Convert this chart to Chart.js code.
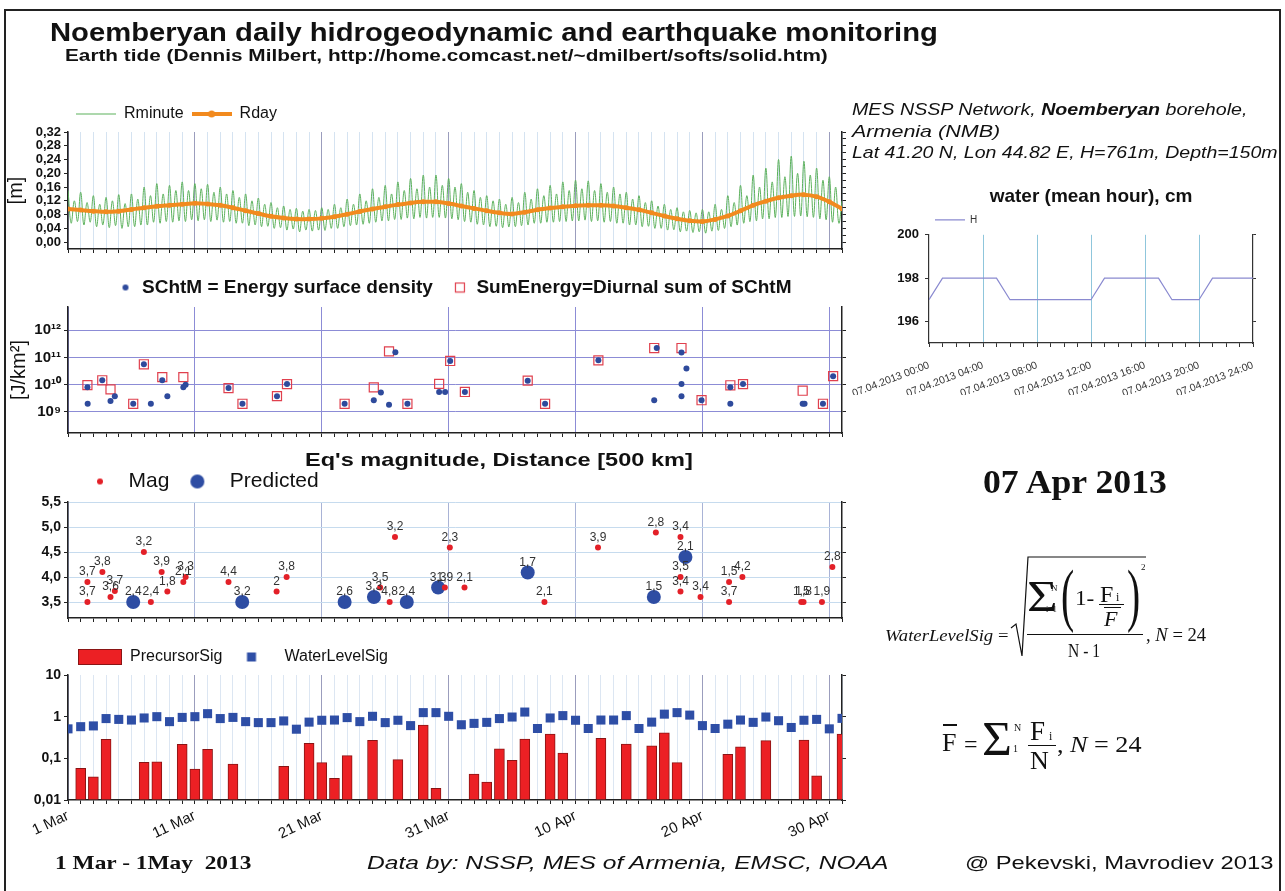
<!DOCTYPE html>
<html>
<head>
<meta charset="utf-8">
<script src="https://cdn.jsdelivr.net/npm/chart.js@4.4.1/dist/chart.umd.min.js"></script>
<style>
body{margin:0;width:1285px;height:891px;background:#fff;position:relative;overflow:hidden;font-family:"Liberation Sans",Arial,sans-serif;color:#111}
.box{position:absolute}
.txt{position:absolute;white-space:nowrap;line-height:1;transform-origin:0 0}
.serif{font-family:"Liberation Serif","Times New Roman",serif}
.frame{position:absolute;left:4px;top:9px;width:1273px;height:900px;border:2px solid #222;border-bottom:none}
.hl{position:absolute;background:#111}
</style>
</head>
<body>
<div class="frame"></div>
<div class="box" style="left:0;top:98px;width:860px;height:167px"><canvas id="tide"></canvas></div>
<div class="box" style="left:0;top:258px;width:860px;height:191px"><canvas id="energy"></canvas></div>
<div class="box" style="left:0;top:463px;width:860px;height:171px"><canvas id="mag"></canvas></div>
<div class="box" style="left:0;top:639px;width:860px;height:211px"><canvas id="sig"></canvas></div>
<div class="box" style="left:830px;top:185px;width:450px;height:210px"><canvas id="water"></canvas></div>
<svg class="box" style="left:0;top:0" width="1285" height="891">
  <path d="M1011,628 L1016,624 L1022,656 L1028,557 L1146,557" fill="none" stroke="#111" stroke-width="1.2"/>
</svg>
<script>
// days counted from 1 Mar 2013 00:00
var dayLabels = ["1 Mar", "11 Mar", "21 Mar", "31 Mar", "10 Apr", "20 Apr", "30 Apr"];
var tideTicks = [0, 0.04, 0.08, 0.12, 0.16, 0.20, 0.24, 0.28, 0.32];

// Rday, one value a day
var rDay = [0.096, 0.093, 0.090, 0.088, 0.090, 0.095, 0.100, 0.104, 0.107, 0.110,
  0.113, 0.111, 0.107, 0.100, 0.091, 0.083, 0.075, 0.070, 0.067, 0.067,
  0.069, 0.074, 0.081, 0.089, 0.096, 0.103, 0.109, 0.114, 0.117, 0.117,
  0.112, 0.105, 0.098, 0.091, 0.085, 0.082, 0.087, 0.094, 0.099, 0.103,
  0.106, 0.107, 0.107, 0.105, 0.100, 0.094, 0.085, 0.076, 0.068, 0.062,
  0.060, 0.066, 0.076, 0.091, 0.107, 0.119, 0.129, 0.135, 0.138, 0.132,
  0.117, 0.097];

// Rminute, turning points of the trace every 6 hours
var rMinute = [
  .150, .055, .120, .060, .145, .050, .115, .058, .135, .045, .110, .050,
  .130, .042, .120, .048, .138, .040, .112, .045, .140, .045, .125, .050,
  .160, .050, .135, .058, .170, .055, .140, .060, .165, .058, .150, .062,
  .175, .060, .150, .065, .170, .062, .155, .065, .168, .060, .145, .064,
  .160, .058, .140, .060, .150, .055, .130, .055, .140, .048, .120, .050,
  .128, .045, .110, .046, .115, .040, .100, .042, .105, .035, .095, .038,
  .098, .030, .090, .035, .095, .032, .092, .035, .100, .034, .095, .040,
  .110, .040, .100, .045, .125, .048, .110, .050, .140, .052, .120, .055,
  .155, .058, .130, .062, .165, .062, .140, .066, .175, .066, .150, .070,
  .185, .068, .155, .072, .195, .070, .160, .072, .195, .072, .165, .070,
  .185, .068, .160, .065, .170, .060, .145, .058, .150, .052, .130, .050,
  .135, .045, .120, .046, .125, .042, .110, .044, .130, .045, .115, .048,
  .145, .050, .125, .055, .155, .055, .135, .058, .165, .058, .140, .060,
  .175, .060, .150, .062, .180, .062, .155, .064, .178, .060, .150, .062,
  .170, .058, .145, .060, .160, .055, .140, .055, .145, .050, .125, .050,
  .135, .045, .115, .046, .120, .040, .105, .040, .110, .035, .095, .036,
  .100, .030, .088, .032, .092, .028, .085, .030, .095, .026, .088, .032,
  .110, .034, .095, .040, .135, .045, .115, .050, .165, .055, .135, .060,
  .195, .062, .160, .068, .215, .068, .175, .072, .240, .072, .190, .075,
  .250, .075, .200, .076, .235, .074, .195, .072, .215, .068, .180, .065,
  .190, .058, .160, .055, .120];

// SChtM and SumEnergy [J/km2]
var energyTicks = [1e9, 1e10, 1e11, 1e12];
var energyTickLabels = ["10⁹", "10¹⁰", "10¹¹", "10¹²"];
var schtmDay = [1.53, 1.55, 2.7, 3.35, 3.69, 5.14, 5.98, 6.53, 7.43, 7.83, 9.09, 9.27, 12.65, 13.75,
  16.47, 17.26, 21.8, 24.1, 24.66, 25.3, 25.8, 26.75, 29.25, 29.72, 30.12, 31.28, 36.23, 37.6,
  41.8, 46.2, 46.4, 48.35, 48.74, 48.35, 48.35, 49.93, 52.2, 52.2, 53.2, 57.9, 58.05, 59.5, 60.3];
var schtmVal = [8e9, 2e9, 1.45e10, 2.5e9, 3.8e9, 2e9, 5.6e10, 2e9, 1.45e10, 3.8e9, 8e9, 1e10, 7.5e9, 2e9,
  3.8e9, 1.05e10, 2e9, 2.7e9, 5.2e9, 1.85e9, 1.55e11, 2e9, 5.4e9, 5.4e9, 7.4e10, 5.4e9, 1.4e10, 2e9,
  7.8e10, 2.7e9, 2.2e11, 1.5e11, 3.9e10, 1.05e10, 3.8e9, 2.7e9, 8e9, 2e9, 1.05e10, 2e9, 2e9, 2e9, 2.05e10];
var sumDay = [1.53, 2.7, 3.35, 5.14, 5.98, 7.43, 9.09, 12.65, 13.75, 16.47, 17.26, 21.8, 24.1, 25.3,
  26.75, 29.25, 30.12, 31.28, 36.23, 37.6, 41.8, 46.2, 48.35, 49.93, 52.2, 53.2, 57.9, 59.5, 60.3];
var sumVal = [9.6e9, 1.45e10, 6.7e9, 2e9, 5.6e10, 1.9e10, 1.9e10, 7.5e9, 2e9, 3.8e9, 1.05e10, 2e9, 8e9, 1.65e11,
  2e9, 1.07e10, 7.4e10, 5.4e9, 1.4e10, 2e9, 7.8e10, 2.2e11, 2.2e11, 2.7e9, 9.5e9, 1.05e10, 6e9, 2e9, 2.05e10];

// earthquakes: magnitude, label = distance
var magTicks = [3.5, 4.0, 4.5, 5.0, 5.5];
var magDay = [1.53, 1.53, 2.71, 3.35, 3.69, 5.98, 6.53, 7.38, 7.83, 9.09, 9.27, 12.65, 16.44, 17.23,
  24.6, 25.35, 25.77, 29.7, 30.09, 31.25, 37.55, 41.77, 46.33, 48.27, 48.27, 48.27, 49.85, 52.1,
  53.15, 52.1, 57.79, 57.97, 59.42, 60.24];
var magVal = [3.9, 3.5, 4.1, 3.6, 3.72, 4.5, 3.5, 4.1, 3.71, 3.9, 4.0, 3.9, 3.71, 4.0,
  3.79, 3.5, 4.8, 3.79, 4.59, 3.79, 3.5, 4.59, 4.89, 4.8, 4.0, 3.71, 3.6, 3.9,
  4.0, 3.5, 3.5, 3.5, 3.5, 4.2];
var magDist = ["3,7", "3,7", "3,8", "3,6", "3,7", "3,2", "2,4", "3,9", "1,8", "2,1", "3,3", "4,4", "2", "3,8",
  "3,5", "4,8", "3,2", "1,9", "2,3", "2,1", "2,1", "3,9", "2,8", "3,4", "3,5", "3,4", "3,4", "1,5",
  "4,2", "3,7", "1,5", "1,8", "1,9", "2,8"];
var predDay = [5.14, 13.73, 21.8, 24.11, 26.7, 29.17, 36.23, 46.17, 48.66];
var predVal = [3.5, 3.5, 3.5, 3.6, 3.5, 3.79, 4.09, 3.6, 4.4];
var predDist = ["2,4", "3,2", "2,6", "3,3", "2,4", "3,3", "1,7", "1,5", "2,1"];

// daily signals
var sigTicks = [0.01, 0.1, 1, 10];
var sigTickLabels = ["0,01", "0,1", "1", "10"];
var precursorSig = [null, 0.0575, 0.036, 0.286, null, null, 0.08, 0.083, null, 0.217,
  0.055, 0.164, null, 0.073, null, null, null, 0.064, null, 0.23,
  0.079, 0.033, 0.116, null, 0.27, null, 0.093, null, 0.63, 0.019,
  null, null, 0.042, 0.027, 0.17, 0.09, 0.29, null, 0.38, 0.134,
  null, null, 0.30, null, 0.22, null, 0.2, 0.41, 0.079, null,
  null, null, 0.125, 0.19, null, 0.265, null, null, 0.275, 0.038,
  null, 0.38];
var waterLevelSig = [0.51, 0.575, 0.6, 0.9, 0.86, 0.83, 0.93, 1.0, 0.76, 0.96,
  1.0, 1.18, 0.9, 0.96, 0.76, 0.72, 0.72, 0.79, 0.5, 0.74,
  0.82, 0.83, 0.95, 0.76, 1.02, 0.72, 0.82, 0.61, 1.25, 1.25,
  1.02, 0.64, 0.69, 0.73, 0.9, 0.98, 1.29, 0.52, 0.93, 1.06,
  0.82, 0.52, 0.83, 0.83, 1.06, 0.52, 0.74, 1.15, 1.25, 1.09,
  0.61, 0.52, 0.66, 0.83, 0.73, 0.98, 0.8, 0.55, 0.82, 0.86,
  0.51, 0.91];

// water level, 07 Apr 2013, hourly
var waterH = [197, 198, 198, 198, 198, 198, 197, 197, 197, 197, 197, 197, 197,
  198, 198, 198, 198, 198, 197, 197, 197, 198, 198, 198, 198];
var waterTicks = [196, 198, 200];
var hourLabels = ["07.04.2013 00:00", "07.04.2013 04:00", "07.04.2013 08:00", "07.04.2013 12:00",
  "07.04.2013 16:00", "07.04.2013 20:00", "07.04.2013 24:00"];

Chart.defaults.font.family = '"Liberation Sans", Arial, sans-serif';
Chart.defaults.color = "#111";
Chart.defaults.animation = false;
Chart.defaults.plugins.tooltip.enabled = false;

var dayTicks = [];
for (var d = 0; d <= 61; d++) dayTicks.push(d);
var hourTicks = [];
for (var h = 0; h <= 24; h++) hourTicks.push(h);

function marker(w, h, draw) {
  var c = document.createElement("canvas");
  c.width = w; c.height = h;
  draw(c.getContext("2d"), w, h);
  return c;
}
function dot(ctx, x, y, r, col) {
  ctx.fillStyle = col; ctx.beginPath(); ctx.arc(x, y, r, 0, Math.PI * 2); ctx.fill();
}

function legendFor(markers, font, padding, align) {
  return {
    position: "top", align: align, fullSize: false,
    labels: {
      usePointStyle: true, pointStyleWidth: markers[0].width, padding: padding, color: "#111", font: font,
      generateLabels: function (chart) {
        return chart.data.datasets.map(function (ds, i) {
          return { text: ds.label, pointStyle: markers[i], datasetIndex: i, hidden: false,
            lineWidth: 0, fillStyle: "transparent", strokeStyle: "transparent", fontColor: "#111" };
        });
      }
    }
  };
}

function dayScale(height, showLabels, minor, major) {
  return {
    type: "linear", min: 0, max: 61, offset: false,
    afterBuildTicks: function (s) { s.ticks = dayTicks.map(function (v) { return { value: v }; }); },
    afterFit: function (s) { s.height = height; },
    ticks: {
      display: showLabels, autoSkip: false, maxRotation: 25, minRotation: 25, padding: 3,
      font: { size: 15 }, color: "#111",
      callback: function (v) { return v % 10 === 0 ? dayLabels[v / 10] : ""; }
    },
    grid: {
      offset: false, tickColor: "#222", tickLength: 4,
      color: function (c) { return c.tick && c.tick.value % 10 === 0 ? major : minor; }
    },
    border: { color: "#222", width: 1.5 }
  };
}

function valueScale(o) {
  return {
    type: o.type, min: o.min, max: o.max, position: "left",
    afterBuildTicks: function (s) { s.ticks = o.ticks.map(function (v) { return { value: v }; }); },
    afterFit: function (s) { s.width = 68; },
    ticks: { callback: o.fmt, autoSkip: false, font: { size: o.size || 14, weight: "bold" }, color: "#111", padding: 3 },
    grid: { color: o.grid, tickColor: "#222", tickLength: 4 },
    border: { color: "#222", width: 1.5 },
    title: o.title ? { display: true, text: o.title, font: { size: 20 }, padding: { top: o.titlePad, bottom: 0 }, color: "#111" } : { display: false }
  };
}

function mirrorScale(o, width) {
  return {
    type: o.type, min: o.min, max: o.max, position: "right",
    afterBuildTicks: function (s) { s.ticks = o.ticks.map(function (v) { return { value: v }; }); },
    afterFit: function (s) { s.width = width; },
    ticks: { autoSkip: false, callback: function () { return ""; } },
    grid: { drawOnChartArea: false, tickColor: "#222", tickLength: 4 },
    border: { color: "#222", width: 1.5 }
  };
}

function comma(digits) { return function (v) { return Number(v).toFixed(digits).replace(".", ","); }; }

var pointLabels = {
  id: "pointLabels",
  afterDatasetsDraw: function (chart) {
    var ctx = chart.ctx;
    chart.data.datasets.forEach(function (ds, i) {
      if (!ds.pointLabels) return;
      var meta = chart.getDatasetMeta(i);
      ctx.save();
      ctx.font = '12px "Liberation Sans", Arial, sans-serif';
      ctx.fillStyle = "#333";
      ctx.textAlign = "center";
      ctx.textBaseline = "middle";
      meta.data.forEach(function (pt, j) { ctx.fillText(ds.pointLabels[j], pt.x, pt.y - 10); });
      ctx.restore();
    });
  }
};

// ---- Earth tide ----
var tideMarkers = [
  marker(40, 10, function (c) { c.strokeStyle = "#5cb15c"; c.lineWidth = 1.2; c.beginPath(); c.moveTo(0, 5); c.lineTo(40, 5); c.stroke(); }),
  marker(40, 10, function (c) { c.strokeStyle = "#f28a1e"; c.lineWidth = 4; c.beginPath(); c.moveTo(0, 5); c.lineTo(40, 5); c.stroke(); dot(c, 20, 5, 3.5, "#f28a1e"); })
];
var tideY = { type: "linear", min: -0.02, max: 0.32, ticks: tideTicks, fmt: comma(2), grid: "transparent", title: "[m]", titlePad: 4, size: 13 };
new Chart(document.getElementById("tide"), {
  type: "line",
  data: {
    datasets: [
      { label: "Rminute", data: rMinute.map(function (v, i) { return { x: i / 4, y: v }; }),
        borderColor: "#5cb15c", borderWidth: 1, pointRadius: 0, tension: 0.4, order: 1 },
      { label: "Rday", data: rDay.map(function (v, i) { return { x: i, y: v }; }),
        borderColor: "#f28a1e", backgroundColor: "#f28a1e", borderWidth: 4, pointRadius: 2.5,
        pointBorderWidth: 0, tension: 0.3, order: 0 }
    ]
  },
  options: {
    responsive: true, maintainAspectRatio: false,
    scales: {
      x: dayScale(16, false, "#d5e3f1", "#9b9dbd"),
      y: valueScale(tideY),
      y2: mirrorScale({ type: "linear", min: -0.02, max: 0.32, ticks: [0, 0.02, 0.04, 0.06, 0.08, 0.10, 0.12, 0.14, 0.16, 0.18, 0.20, 0.22, 0.24, 0.26, 0.28, 0.30, 0.32] }, 18)
    },
    plugins: { legend: legendFor(tideMarkers, { size: 16 }, 8, "start") }
  }
});

// ---- Energy ----
var energyMarkers = [
  marker(14, 12, function (c) { dot(c, 7, 6, 3, "#2e4a9c"); }),
  marker(14, 12, function (c) { c.strokeStyle = "#e0404e"; c.lineWidth = 1.2; c.strokeRect(2.5, 1.5, 9, 9); })
];
var energyY = { type: "logarithmic", min: 1.7e8, max: 7e12, ticks: energyTicks,
  fmt: function (v, i) { return energyTickLabels[i]; }, grid: "#8c8cd6", title: "[J/km²]", titlePad: 7, size: 15 };
new Chart(document.getElementById("energy"), {
  type: "scatter",
  data: {
    datasets: [
      { label: "SChtM = Energy surface density", data: schtmDay.map(function (d, i) { return { x: d, y: schtmVal[i] }; }),
        pointRadius: 3, backgroundColor: "#2e4a9c", borderWidth: 0 },
      { label: "SumEnergy=Diurnal sum of SChtM", data: sumDay.map(function (d, i) { return { x: d, y: sumVal[i] }; }),
        pointStyle: "rect", pointRadius: 6.4, backgroundColor: "rgba(0,0,0,0)", borderColor: "#e0404e", borderWidth: 1.2 }
    ]
  },
  options: {
    responsive: true, maintainAspectRatio: false,
    scales: {
      x: dayScale(16, false, "rgba(0,0,0,0)", "#8c8cd6"),
      y: valueScale(energyY),
      y2: mirrorScale({ type: "logarithmic", min: 1.7e8, max: 7e12, ticks: energyTicks }, 18)
    },
    plugins: { legend: legendFor(energyMarkers, { size: 19, weight: "bold" }, 20, "center") }
  }
});

// ---- Magnitudes ----
var magMarkers = [
  marker(42, 16, function (c) { dot(c, 24, 8, 3, "#e32028"); }),
  marker(42, 16, function (c) { dot(c, 20, 8, 7, "#2e4da3"); })
];
var magY = { type: "linear", min: 3.18, max: 5.5, ticks: magTicks, fmt: comma(1), grid: "#c6dbee" };
new Chart(document.getElementById("mag"), {
  type: "scatter",
  data: {
    datasets: [
      { label: "Mag", data: magDay.map(function (d, i) { return { x: d, y: magVal[i] }; }), pointLabels: magDist,
        pointRadius: 3, backgroundColor: "#e32028", borderWidth: 0 },
      { label: "Predicted", data: predDay.map(function (d, i) { return { x: d, y: predVal[i] }; }), pointLabels: predDist,
        pointRadius: 7, backgroundColor: "#2e4da3", borderWidth: 0 }
    ]
  },
  options: {
    responsive: true, maintainAspectRatio: false,
    scales: {
      x: dayScale(16, false, "rgba(0,0,0,0)", "#a9b3d6"),
      y: valueScale(magY),
      y2: mirrorScale({ type: "linear", min: 3.18, max: 5.5, ticks: magTicks }, 18)
    },
    plugins: { legend: legendFor(magMarkers, { size: 21 }, 8, "start") }
  },
  plugins: [pointLabels]
});

// ---- Precursor / water level signals ----
var sigMarkers = [
  marker(44, 16, function (c) { c.fillStyle = "#ec2024"; c.fillRect(0, 0.5, 44, 15); c.strokeStyle = "#8a1414"; c.lineWidth = 1; c.strokeRect(0.5, 0.5, 43, 15); }),
  marker(44, 16, function (c) { c.fillStyle = "#2e4ea6"; c.fillRect(14.5, 3.5, 9, 9); })
];
var bars = [];
precursorSig.forEach(function (v, i) { if (v !== null) bars.push({ x: i, y: v }); });
var sigY = { type: "logarithmic", min: 0.01, max: 10, ticks: sigTicks,
  fmt: function (v, i) { return sigTickLabels[i]; }, grid: "rgba(0,0,0,0)" };
new Chart(document.getElementById("sig"), {
  type: "bar",
  data: {
    datasets: [
      { type: "bar", label: "PrecursorSig", data: bars, backgroundColor: "#ec2024", borderColor: "#8a1414",
        borderWidth: 1, barThickness: 10, base: 0.01, order: 1, clip: 0 },
      { type: "scatter", label: "WaterLevelSig", data: waterLevelSig.map(function (v, i) { return { x: i, y: v }; }),
        pointStyle: "rect", pointRadius: 6.4, backgroundColor: "#2e4ea6", borderWidth: 0, order: 0, clip: 0 }
    ]
  },
  options: {
    responsive: true, maintainAspectRatio: false,
    scales: {
      x: dayScale(50, true, "#dce6f2", "#9b9dbd"),
      y: valueScale(sigY),
      y2: mirrorScale({ type: "logarithmic", min: 0.01, max: 10, ticks: sigTicks }, 18)
    },
    plugins: { legend: legendFor(sigMarkers, { size: 16 }, 10, "start") }
  }
});

// ---- Water level, mean hour ----
new Chart(document.getElementById("water"), {
  type: "line",
  data: {
    datasets: [{ label: "H", data: waterH.map(function (v, i) { return { x: i, y: v }; }),
      borderColor: "#8a8ad0", backgroundColor: "#8a8ad0", borderWidth: 1.2, pointRadius: 0, tension: 0 }]
  },
  options: {
    responsive: true, maintainAspectRatio: false,
    scales: {
      x: {
        type: "linear", min: 0, max: 24,
        afterBuildTicks: function (s) { s.ticks = hourTicks.map(function (v) { return { value: v }; }); },
        afterFit: function (s) { s.height = 52; },
        ticks: { autoSkip: false, maxRotation: 21, minRotation: 21, padding: 12, font: { size: 10.5 }, color: "#333",
          callback: function (v) { return v % 4 === 0 ? hourLabels[v / 4] : ""; } },
        grid: { tickColor: "#333", tickLength: 4,
          color: function (c) { return c.tick && c.tick.value % 4 === 0 && c.tick.value > 0 && c.tick.value < 24 ? "#8fc6dc" : "rgba(0,0,0,0)"; } },
        border: { color: "#333", width: 1.2 }
      },
      y: {
        type: "linear", min: 195, max: 200,
        afterBuildTicks: function (s) { s.ticks = waterTicks.map(function (v) { return { value: v }; }); },
        afterFit: function (s) { s.width = 99; },
        ticks: { font: { size: 13, weight: "bold" }, color: "#111", padding: 6 },
        grid: { color: "rgba(0,0,0,0)", tickColor: "#333", tickLength: 4 },
        border: { color: "#333", width: 1.2 }
      },
      y2: {
        type: "linear", min: 195, max: 200, position: "right",
        afterBuildTicks: function (s) { s.ticks = waterTicks.map(function (v) { return { value: v }; }); },
        afterFit: function (s) { s.width = 27; },
        ticks: { callback: function () { return ""; } },
        grid: { drawOnChartArea: false, tickColor: "#333", tickLength: 3 },
        border: { color: "#333", width: 1.2 }
      }
    },
    plugins: {
      title: { display: true, text: "water (mean hour), cm", fullSize: false, color: "#111",
        font: { size: 19, weight: "bold" }, padding: { top: 0, bottom: 1 } },
      legend: { position: "top", align: "start", fullSize: false,
        labels: { boxWidth: 30, boxHeight: 0, padding: 6, font: { size: 10 }, color: "#333" } }
    }
  }
});

// ---- text around the charts ----
function txt(html, x, base, size, cls, fitW) {
  var el = document.createElement("div");
  el.className = "txt " + (cls || "");
  el.innerHTML = html;
  el.style.left = x + "px";
  el.style.top = (base - 0.85 * size) + "px";
  el.style.fontSize = size + "px";
  document.body.appendChild(el);
  if (fitW) el.style.transform = "scaleX(" + (fitW / el.offsetWidth) + ")";
  return el;
}
function rule(x, y, w, h) {
  var el = document.createElement("div");
  el.className = "hl";
  el.style.cssText += "left:" + x + "px;top:" + y + "px;width:" + w + "px;height:" + h + "px";
  document.body.appendChild(el);
}

txt("<b>Noemberyan daily hidrogeodynamic and earthquake monitoring</b>", 50, 41, 25, "", 888);
txt("<b>Earth tide (Dennis Milbert, http://home.comcast.net/~dmilbert/softs/solid.htm)</b>", 65, 61, 17, "", 763);
txt("<i>MES NSSP Network, <b>Noemberyan</b> borehole,</i>", 852, 115, 17, "", 395);
txt("<i>Armenia (NMB)</i>", 852, 137, 17, "", 148);
txt("<i>Lat 41.20 N, Lon 44.82 E, H=761m, Depth=150m</i>", 852, 158, 17, "", 425);
txt("<b>Eq's magnitude, Distance [500 km]</b>", 305, 466, 19, "", 388);
txt("<b>07 Apr 2013</b>", 983, 494, 33, "serif", 184);

// WaterLevelSig formula
txt("<i>WaterLevelSig</i> =", 885, 641, 17, "serif", 123);
txt("Σ", 1027, 612, 44, "serif", 31);
txt("N", 1051, 592, 9, "serif");
txt("i=1", 1046, 613, 8, "serif");
txt("(", 1061, 619, 70, "serif", 13);
txt("1-", 1075, 606, 22, "serif", 19);
txt("F", 1100, 602, 24, "serif");
txt("i", 1116, 601, 12, "serif");
rule(1099, 604, 25, 1);
txt("<i>F</i>", 1104, 627, 22, "serif");
rule(1104, 607, 17, 1);
txt(")", 1127, 619, 70, "serif", 13);
txt("2", 1141, 571, 9, "serif");
rule(1027, 634, 116, 1);
txt("N - 1", 1068, 657, 18, "serif", 32);
txt(", <i>N</i> = 24", 1146, 641, 18, "serif", 60);

// F mean formula
txt("F", 942, 752, 26, "serif");
rule(943, 724, 14, 1.5);
txt("=", 964, 752, 24, "serif");
txt("Σ", 982, 756, 48, "serif", 30);
txt("N", 1014, 731, 10, "serif");
txt("1", 1013, 752, 10, "serif");
txt("F", 1030, 741, 27, "serif");
txt("i", 1049, 740, 12, "serif");
rule(1028, 745, 28, 1.2);
txt("N", 1030, 770, 26, "serif");
txt(", <i>N</i> = 24", 1057, 752, 24, "serif", 85);

// footer
txt("<b>1 Mar - 1May&nbsp; 2013</b>", 55, 869, 19, "serif", 197);
txt("<i>Data by: NSSP, MES of Armenia, EMSC, NOAA</i>", 367, 869, 19, "", 521);
txt("@ Pekevski, Mavrodiev 2013", 965, 869, 19, "", 308);
</script>
</body>
</html>
